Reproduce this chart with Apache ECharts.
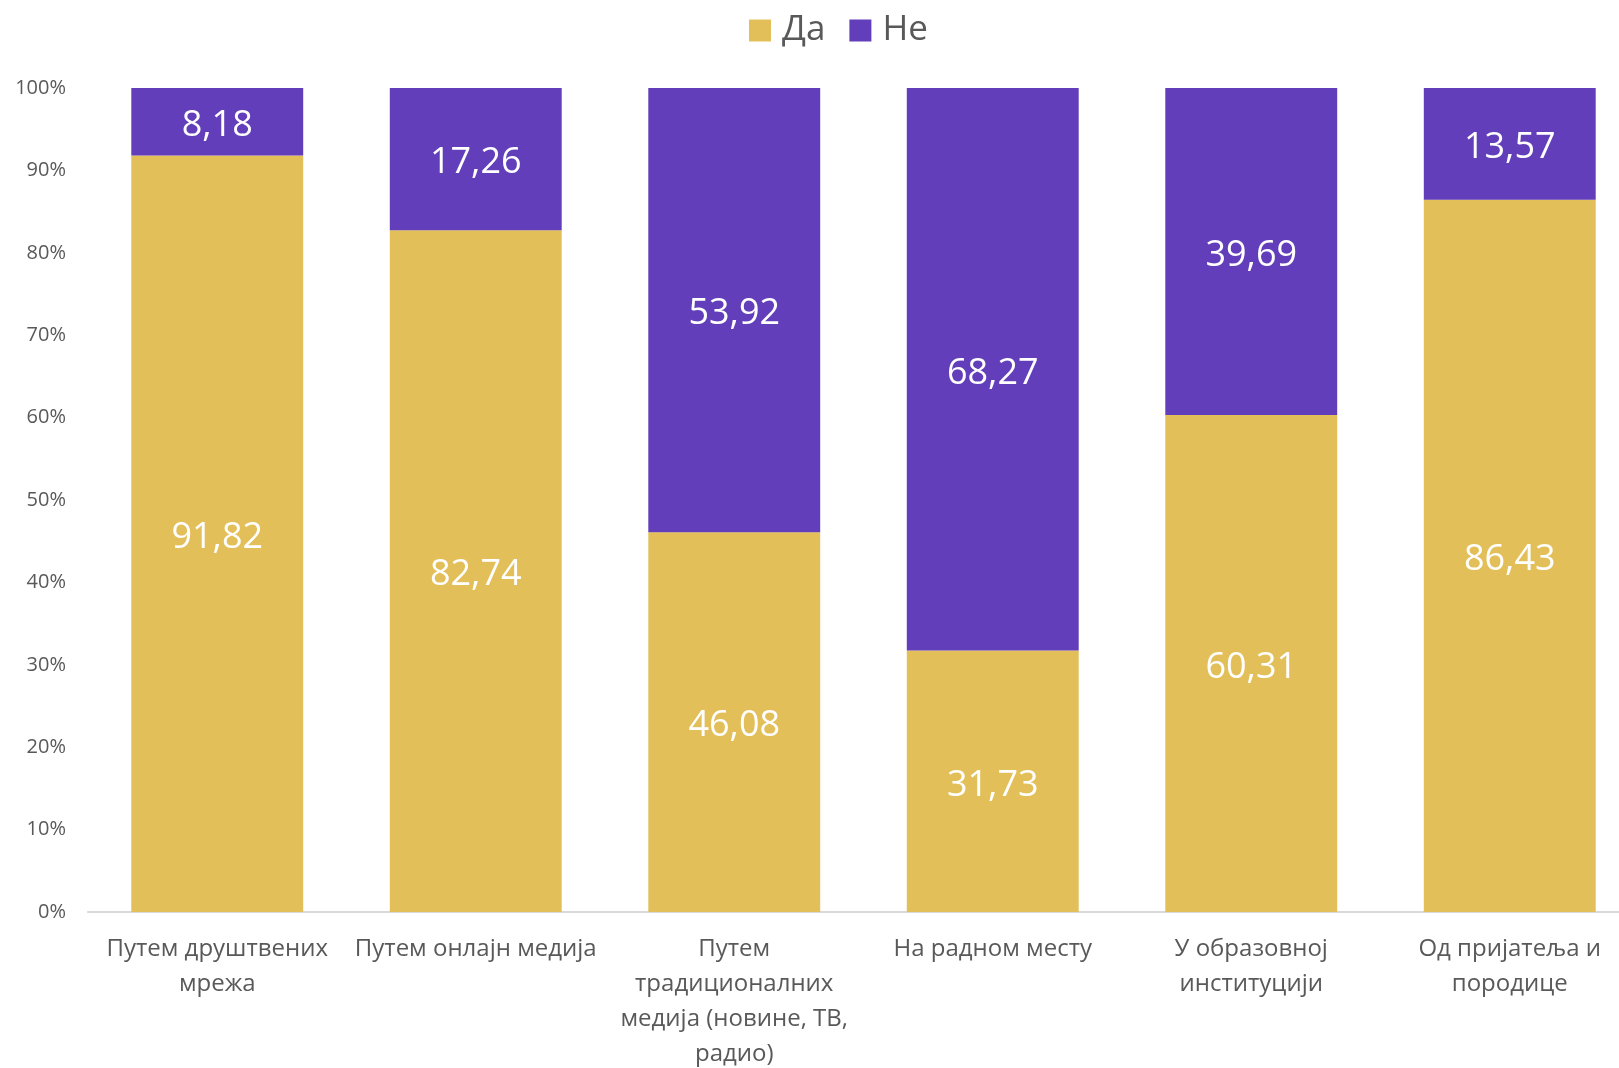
<!DOCTYPE html>
<html>
<head>
<meta charset="utf-8">
<script src="https://cdn.jsdelivr.net/npm/echarts@6/dist/echarts.min.js"></script>
<style>
html,body{margin:0;padding:0;background:#fff;overflow:hidden;}
#chart{width:1619px;height:1068px;}
</style>
</head>
<body>
<div id="chart"></div>
<script>
const categories = [
  'Путем друштвених\nмрежа',
  'Путем онлајн медија',
  'Путем\nтрадиционалних\nмедија (новине, ТВ,\nрадио)',
  'На радном месту',
  'У образовној\nинституцији',
  'Од пријатеља и\nпородице'
];
const seriesNames = ['Да', 'Не'];
const daValues = [91.82, 82.74, 46.08, 31.73, 60.31, 86.43];
const neValues = [8.18, 17.26, 53.92, 68.27, 39.69, 13.57];
const yTicks = { min: 0, max: 100, interval: 10 };

const FONT = '"Open Sans", "Noto Sans", sans-serif';
const colors = ['#E3BF59', '#623EBA'];

const labelCfg = {
  show: true,
  position: 'inside',
  offset: [0, 4],
  color: '#ffffff',
  fontSize: 36,
  fontFamily: FONT,
  formatter: p => p.value.toFixed(2).replace('.', ',')
};

const chart = echarts.init(document.getElementById('chart'), null, { renderer: 'canvas' });
chart.setOption({
  animation: false,
  color: colors,
  legend: {
    data: seriesNames,
    left: 744,
    top: 8,
    itemWidth: 22,
    itemHeight: 22,
    itemGap: 24,
    icon: 'rect',
    textStyle: { fontSize: 35, color: '#595959', fontFamily: FONT, padding: [0, 0, 0, 6] }
  },
  grid: { left: 88, width: 1551, top: 88, bottom: 156, containLabel: false, outerBoundsMode: 'none' },
  xAxis: {
    type: 'category',
    data: categories,
    axisLine: { show: true, lineStyle: { color: '#D9D9D9', width: 2 } },
    axisTick: { show: false },
    axisLabel: {
      interval: 0,
      margin: 20,
      fontSize: 24,
      lineHeight: 35,
      color: '#595959',
      fontFamily: FONT
    }
  },
  yAxis: {
    type: 'value',
    min: yTicks.min,
    max: yTicks.max,
    interval: yTicks.interval,
    axisLine: { show: false },
    axisTick: { show: false },
    splitLine: { show: false },
    axisLabel: {
      formatter: '{value}%',
      fontSize: 20,
      margin: 22,
      color: '#595959',
      fontFamily: FONT
    }
  },
  series: [
    {
      name: seriesNames[0],
      type: 'bar',
      stack: 'total',
      data: daValues,
      barCategoryGap: '33.5%',
      itemStyle: { color: colors[0] },
      label: labelCfg
    },
    {
      name: seriesNames[1],
      type: 'bar',
      stack: 'total',
      data: neValues,
      barCategoryGap: '33.5%',
      itemStyle: { color: colors[1] },
      label: labelCfg
    }
  ]
});
</script>
</body>
</html>
